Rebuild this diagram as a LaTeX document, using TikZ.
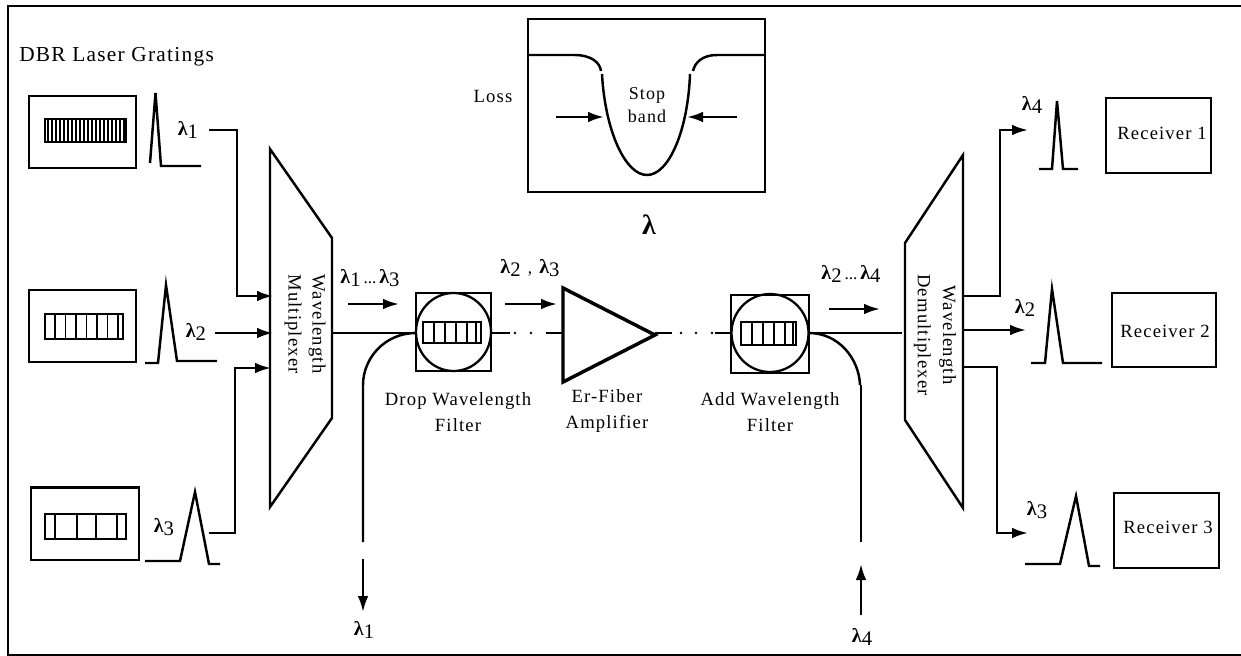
\documentclass[tikz,border=0pt]{standalone}
\usepackage{fontspec}
\setmainfont{Liberation Serif}
\newfontfamily\gd[LetterSpace=6]{Liberation Serif}
\usetikzlibrary{arrows.meta,calc}
\newcommand{\lam}[1]{{\fontsize{15}{15}\selectfont\bfseries λ}\raisebox{-2.5pt}{\fontsize{15.5}{15}\selectfont #1}}
\tikzset{
  x=0.75pt,y=-0.75pt,
  ln/.style={draw=black,line width=1.85pt,line join=miter},
  arr/.style={ln,-{Latex[length=12pt,width=8pt]}},
  boxn/.style={draw=black,line width=1.85pt,inner sep=0pt,anchor=center},
  txt/.style={font=\gd\fontsize{14}{14}\selectfont,text=black,inner sep=0pt},
  lbl/.style={font=\fontsize{13}{13}\selectfont,inner sep=0pt,text=black},
  gline/.style={draw=black,line width=1pt}
}
\newcommand{\boxat}[5]{% name x1 y1 x2 y2
  \pgfmathsetmacro{\bw}{(#4-#2)*0.75}\pgfmathsetmacro{\bh}{(#5-#3)*0.75}
  \node[boxn,minimum width=\bw pt,minimum height=\bh pt,outer sep=0pt] (#1) at ({(#2+#4)/2},{(#3+#5)/2}) {};
}
\newcommand{\grating}[6]{% name x1 y1 x2 y2 lines
  \boxat{#1}{#2}{#3}{#4}{#5}
  \foreach \gx in {#6} {\draw[gline] (\gx,#3) -- (\gx,#5);}
}
\begin{document}
\begin{tikzpicture}
\useasboundingbox (0,0) rectangle (1241,656);
\draw[line width=1.9pt] (1241,6) -- (8,6) -- (8,655) -- (1241,655);
\node[txt,anchor=west,font=\gd\fontsize{16}{16}\selectfont] (title) at (19,57) {DBR Laser Gratings};

% lasers
\boxat{l1}{29}{96}{136}{168}
\boxat{l2}{29}{290}{136}{362}
\boxat{l3}{31}{487.5}{139}{560}
\grating{g1}{45}{119}{126}{142}{48,52,...,124}
\grating{g2}{45}{314}{123}{339}{55,65.5,...,118}
\grating{g3}{45}{514}{126}{539}{55,77,96,117}
% peaks
\draw[ln] (150,163) -- (155.5,93) -- (161,166) -- (201,166);
\draw[ln] (145,363) -- (158,363) -- (166,285) -- (177,361) -- (217,361);
\draw[ln] (145,561) -- (180,561) -- (195,492) -- (209,564) -- (220,564);
\node[lbl] (a1) at (188,130) {\lam{1}};
\node[lbl] (a2) at (196,332) {\lam{2}};
\node[lbl] (a3) at (164,527) {\lam{3}};

% mux
\draw[ln] (270,149) -- (332,238) -- (332,418) -- (270,507) -- cycle;
\node[txt,rotate=-90,align=center,font=\gd\fontsize{14}{18}\selectfont] (mux) at (305,324) {Wavelength\\Multiplexer};
\coordinate (m1) at (273,296);
\coordinate (m2) at (273,333);
\coordinate (m3) at (271,368);
\coordinate (o1) at (209,130);
\coordinate (o2) at (215,333);
\coordinate (o3) at (209,533);
\draw[arr] (o1) -| (237,296) -- (m1);
\draw[arr] (o2) -- (m2);
\draw[arr] (o3) -| (235,368) -- (m3);

% drop filter
\boxat{df}{416}{293}{491}{371}
\draw[line width=1.7pt] (453.5,332) ellipse [x radius=37.5,y radius=39];
\grating{g4}{423}{322}{481}{343}{434,445,456,467,476}
\coordinate (mo) at (332,333);
\coordinate (dl) at (416,333);
\coordinate (dr) at (491,333);
\draw[ln] (mo) -- (dl);
\draw[ln] (dl) .. controls (385,333) and (363,358) .. (363,385) -- (363,542);
\coordinate (d1) at (363,559);
\coordinate (d2) at (363,612);
\draw[arr] (d1) -- (d2);
\node[lbl] (ld) at (364,630) {\lam{1}};
\draw[arr] (348,304) -- (399,304);
\node[lbl] (t1) at (370,278) {\lam{1}\,...\,\lam{3}};
\draw[ln] (dr) -- (510,333);
\fill (515,333) circle (1.3) (531,333) circle (1.3);
\coordinate (ai) at (563,333);
\draw[ln] (546,333) -- (ai);
\draw[arr] (505,304) -- (557,304);
\node[lbl] (t2) at (530,268) {\lam{2}\, , \,\lam{3}};

% amp
\draw[line width=2.6pt,line join=miter] (563,288) -- (655,335) -- (563,382) -- cycle;
\draw[ln] (655,333) -- (672,333);
\fill (681,333) circle (1.3) (696,333) circle (1.3) (712,333) circle (1.3);

% add filter
\boxat{af}{731}{295}{809}{373}
\draw[line width=1.7pt] (770,333) ellipse [x radius=38.5,y radius=39];
\grating{g5}{741}{322}{796}{345}{752,763,774,785,793}
\coordinate (fl) at (731,333);
\coordinate (fr) at (809,333);
\draw[ln] (715,333) -- (fl);
\coordinate (dmi) at (902,333);
\draw[ln] (fr) -- (dmi);
\draw[ln] (fr) .. controls (838,333) and (859,358) .. (860,385);
\draw[ln] (861,385) -- (861,542);
\draw[arr] (861,615) -- (861,564);
\node[lbl] (l4) at (862,637) {\lam{4}};
\draw[arr] (829,309) -- (880,309);
\node[lbl] (t3) at (851,274) {\lam{2}\,...\,\lam{4}};

\node[txt,align=center,font=\gd\fontsize{14}{19}\selectfont] (dft) at (458,412) {Drop Wavelength\\Filter};
\node[txt,align=center,font=\gd\fontsize{14}{19}\selectfont] (aft) at (607,411) {Er-Fiber\\Amplifier};
\node[txt,align=center,font=\gd\fontsize{14}{19}\selectfont] (adt) at (770,412) {Add Wavelength\\Filter};

% demux
\draw[ln] (905,243) -- (963,155) -- (963,508) -- (905,420) -- cycle;
\node[txt,rotate=-90,align=center,font=\gd\fontsize{14}{19}\selectfont] (dem) at (935,335) {Wavelength\\Demultiplexer};
\coordinate (r1) at (1028,130);
\coordinate (r2) at (1026,330);
\coordinate (r3) at (1028,533);
\draw[arr] (963,296) -- (1000,296) |- (r1);
\draw[arr] (963,330) -- (r2);
\draw[arr] (963,367) -- (997,367) |- (r3);
% peaks
\draw[ln] (1039,169) -- (1052,169) -- (1057,101) -- (1063,169) -- (1078,169);
\draw[ln] (1031,363) -- (1045,363) -- (1052,289) -- (1063,363) -- (1102,363);
\draw[ln] (1025,564) -- (1060,564) -- (1076,496) -- (1089,566) -- (1100,566);
\node[lbl] (b1) at (1032,105) {\lam{4}};
\node[lbl] (b2) at (1025,308) {\lam{2}};
\node[lbl] (b3) at (1037,510) {\lam{3}};
% receivers
\boxat{rx1}{1106}{98}{1211}{173}
\boxat{rx2}{1112}{293}{1216}{367}
\boxat{rx3}{1114}{493}{1219}{568}
\node[txt] (t4) at (1162,133) {Receiver 1};
\node[txt] (t5) at (1165,331) {Receiver 2};
\node[txt] (t6) at (1168,527) {Receiver 3};

% loss plot
\boxat{lb}{528}{19}{765}{192}
\draw[ln] (528,55) -- (575,55) .. controls (590,55) and (600,62) .. (601,71);
\draw[ln] (602,74) .. controls (605,130) and (625,175) .. (647,175) .. controls (669,175) and (688,130) .. (690,74);
\draw[ln] (693,71) .. controls (695,62) and (703,55) .. (717,55) -- (765,55);
\draw[arr] (556,117) -- (604,117);
\draw[arr] (737,117) -- (687,117);
\node[txt,align=center,font=\gd\fontsize{13.5}{17}\selectfont] (sb) at (647,105) {Stop\\band};
\node[txt] (loss) at (493,96) {Loss};
\node[font=\fontsize{21}{21}\selectfont\bfseries,inner sep=0pt] (lam) at (649,225) {λ};
\end{tikzpicture}
\end{document}
